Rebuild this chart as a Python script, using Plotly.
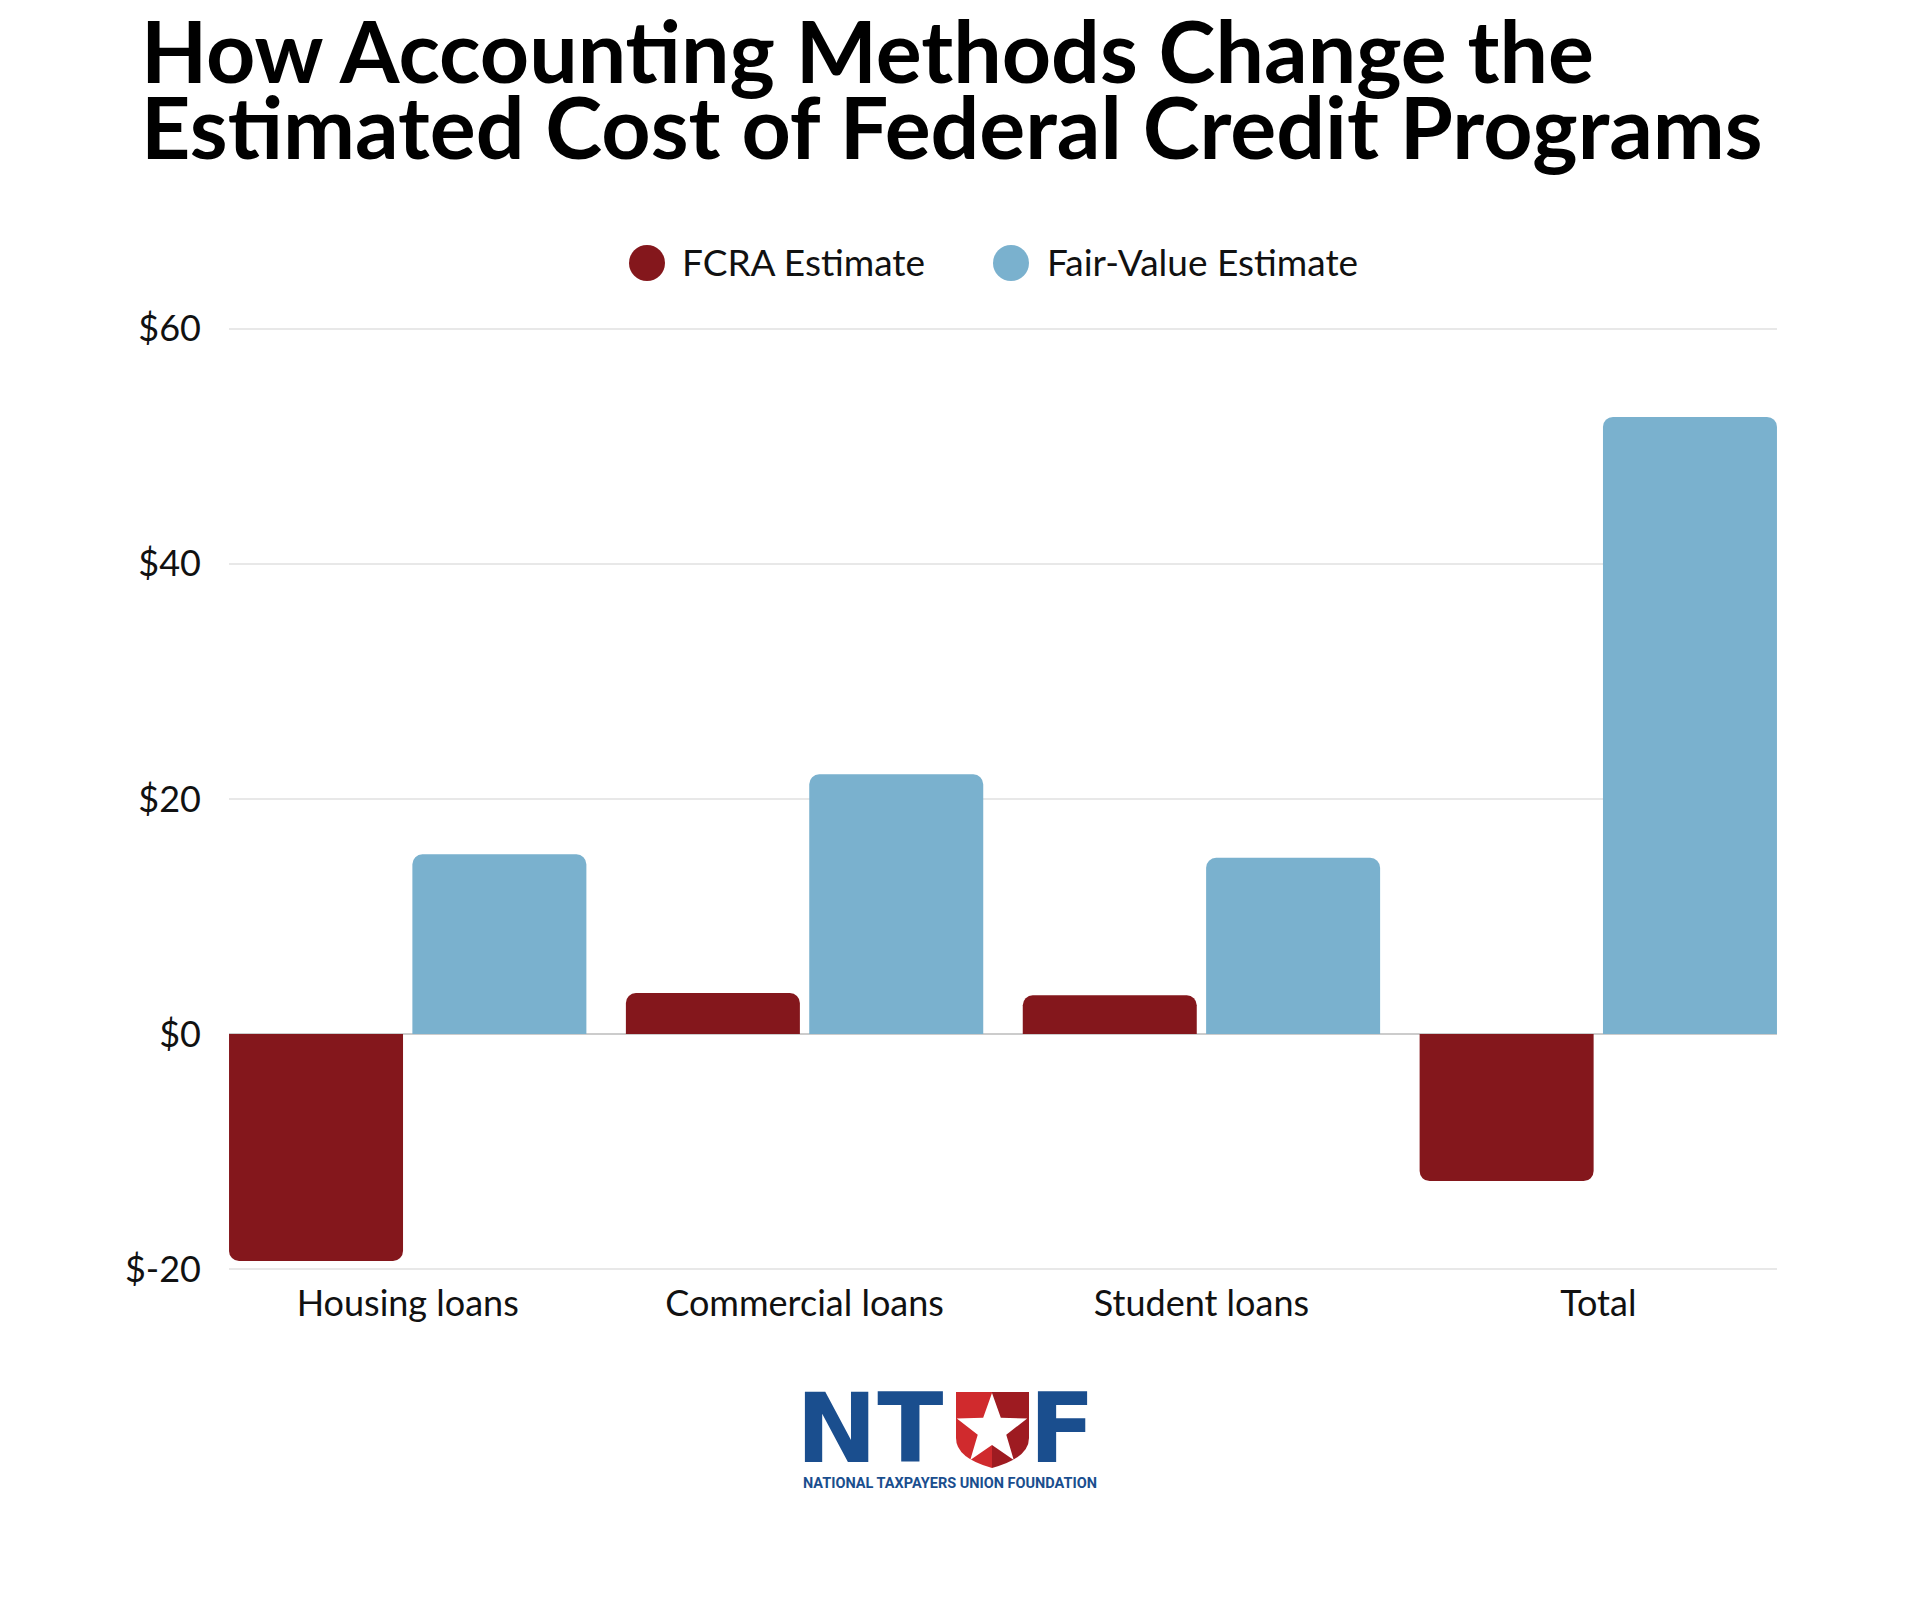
import math
import plotly.graph_objects as go

# data (billions of dollars)
categories = ['Housing loans', 'Commercial loans', 'Student loans', 'Total']
fcra_estimate = [-19.3, 3.5, 3.3, -12.5]
fair_value_estimate = [15.3, 22.1, 15.0, 52.5]
tick_vals = [-20, 0, 20, 40, 60]
tick_text = ['$-20', '$0', '$20', '$40', '$60']

RED = '#84171c'
BLUE = '#7ab1ce'
NAVY = '#1a4e8e'
FONT = 'Lato'

W, H = 1920, 1600
OFF = 8  # page body margin
ML, MR, MT, MB = 221, 151, 319, 337
PW, PH = W - ML - MR, H - MT - MB


def px(x):
    # page pixel -> paper x
    return (x - OFF - ML) / PW


def py(y):
    # page pixel -> paper y
    return (H - MB - (y - OFF)) / PH


fig = go.Figure()
fig.add_trace(go.Bar(x=categories, y=fcra_estimate, name='FCRA Estimate',
                     marker=dict(color=RED, line=dict(width=0)), showlegend=False))
fig.add_trace(go.Bar(x=categories, y=fair_value_estimate, name='Fair-Value Estimate',
                     marker=dict(color=BLUE, line=dict(width=0)), showlegend=False))

# Title (two lines, tight leading)
title_lines = ['How Accounting Methods Change the', 'Estimated Cost of Federal Credit Programs']
for line, ymid in zip(title_lines, [49, 125]):
    fig.add_annotation(text=line, xref='paper', yref='paper', x=px(139), y=py(ymid),
                       xanchor='left', yanchor='middle', showarrow=False,
                       font=dict(family=FONT, size=86, color='#000000', weight=700))

# Legend with big round markers
legend_items = [('FCRA Estimate', RED, 647, 682), ('Fair-Value Estimate', BLUE, 1011, 1047)]
r = 18
for label, col, cx, tx in legend_items:
    fig.add_shape(type='circle', xref='paper', yref='paper',
                  x0=px(cx - r), x1=px(cx + r), y0=py(263 + r), y1=py(263 - r),
                  fillcolor=col, line=dict(width=0))
    fig.add_annotation(text=label, xref='paper', yref='paper', x=px(tx - 2), y=py(262),
                       xanchor='left', yanchor='middle', showarrow=False,
                       font=dict(family=FONT, size=37, color='#111111'))

# NTUF logo
for letter, lx in [('NT', 794), ('F', 1027)]:
    fig.add_annotation(text=letter, xref='paper', yref='paper', x=px(lx), y=py(1428),
                       xanchor='left', yanchor='middle', showarrow=False,
                       font=dict(family='DejaVu Sans', size=97, color=NAVY, weight=700))


def path(points):
    return 'M ' + ' L '.join('{} {}'.format(px(a), py(b)) for a, b in points) + ' Z'


shield_l = 'M {} {} L {} {} L {} {} Q {} {} {} {} Z'.format(
    px(956), py(1392), px(992), py(1392), px(992), py(1468),
    px(956), py(1458), px(956), py(1438))
shield_r = 'M {} {} L {} {} L {} {} Q {} {} {} {} Z'.format(
    px(992), py(1392), px(1029), py(1392), px(1029), py(1438),
    px(1029), py(1458), px(992), py(1468))
fig.add_shape(type='path', xref='paper', yref='paper', path=shield_l,
              fillcolor='#d02a2d', line=dict(width=0))
fig.add_shape(type='path', xref='paper', yref='paper', path=shield_r,
              fillcolor='#9e1b21', line=dict(width=0))
star = []
for k in range(10):
    rad = 37 if k % 2 == 0 else 15
    ang = math.radians(-90 + 36 * k)
    star.append((992 + rad * math.cos(ang), 1430 + rad * math.sin(ang)))
fig.add_shape(type='path', xref='paper', yref='paper', path=path(star),
              fillcolor='#ffffff', line=dict(width=0))
fig.add_annotation(text='NATIONAL TAXPAYERS UNION FOUNDATION', xref='paper', yref='paper',
                   x=px(950), y=py(1483), xanchor='center', yanchor='middle', showarrow=False,
                   font=dict(family='Roboto', size=14.5, color=NAVY, weight=700))

fig.update_layout(
    width=W, height=H,
    margin=dict(l=ML, r=MR, t=MT, b=MB, pad=0),
    paper_bgcolor='white', plot_bgcolor='white',
    barmode='group', bargap=0.076, bargroupgap=0.051, barcornerradius=10,
    showlegend=False,
    xaxis=dict(
        range=[-0.4503, 3.4503],
        showgrid=False, zeroline=False, showline=False, ticks='',
        tickfont=dict(family=FONT, size=36, color='#111111'),
        ticklabelstandoff=8,
    ),
    yaxis=dict(
        # a little headroom so the end gridlines are still drawn
        range=[-20.15, 60.15],
        tickvals=tick_vals, ticktext=tick_text,
        showgrid=True, gridcolor='#e8e8e8', gridwidth=1.5,
        zeroline=True, zerolinecolor='#cccccc', zerolinewidth=2,
        showline=False, ticks='',
        tickfont=dict(family=FONT, size=36, color='#111111'),
        ticklabelstandoff=27,
    ),
)

fig.write_html('out.html')
